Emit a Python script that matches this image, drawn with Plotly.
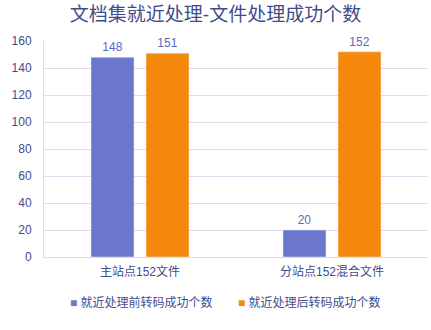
import plotly.graph_objects as go

categories = ["主站点152文件", "分站点152混合文件"]
before_vals = [148, 20]
after_vals = [151, 152]
series_names = ["就近处理前转码成功个数", "就近处理后转码成功个数"]
title_text = "文档集就近处理-文件处理成功个数"

FONT = "Liberation Sans, Noto Sans CJK SC, sans-serif"
label_col = "#3F4C8C"
data_col = "#5A68B8"
colors = ["#6B77CA", "#F5890D"]

fig = go.Figure()
fig.add_bar(x=categories, y=before_vals, name=series_names[0], marker_color=colors[0],
            text=before_vals, textposition="outside", cliponaxis=False,
            textfont=dict(color=data_col, size=12, family=FONT))
fig.add_bar(x=categories, y=after_vals, name=series_names[1], marker_color=colors[1],
            text=after_vals, textposition="outside", cliponaxis=False,
            textfont=dict(color=data_col, size=12, family=FONT))

legend_positions = [68, 236]
for name, col, px in zip(series_names, colors, legend_positions):
    fig.add_annotation(
        text=f"<span style='color:{col}'>■</span> {name}",
        xref="paper", yref="paper", x=(px - 44) / 384, y=-(302 - 257) / 216,
        xanchor="left", yanchor="middle", showarrow=False,
        font=dict(size=12, color=label_col, family=FONT))

fig.update_layout(
    width=431, height=330,
    margin=dict(l=44, r=3, t=41, b=73),
    paper_bgcolor="white", plot_bgcolor="white",
    barmode="group", bargap=0.427, bargroupgap=0.218,
    title=dict(text=title_text, x=0.5, xanchor="center", y=1 - 14 / 330, yanchor="middle",
               font=dict(size=19, color="#3F4C8C", family=FONT)),
    font=dict(family=FONT, color=label_col, size=12),
    showlegend=False,
)
fig.update_yaxes(range=[0, 160], dtick=20, showgrid=True, gridcolor="#DCDCEE",
                 showline=True, linecolor="#DCDCEE", zeroline=False,
                 tickfont=dict(size=12, color=label_col), ticks="", ticklabelstandoff=9)
fig.update_xaxes(showline=True, linecolor="#DCDCEE", ticks="",
                 tickfont=dict(size=12, color=label_col), ticklabelstandoff=4)
fig.write_html("out.html")
